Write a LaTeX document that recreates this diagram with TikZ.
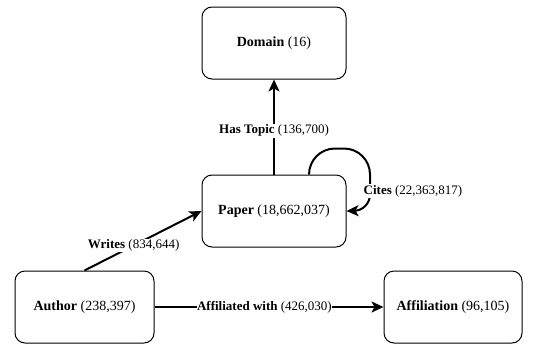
\documentclass[tikz,border=0pt]{standalone}
\usepackage{fontspec}
\setmainfont{Liberation Serif}
\usetikzlibrary{arrows.meta}
\begin{document}
\begin{tikzpicture}[x=1pt,y=-1pt,
  entity/.style={draw=black,line width=1pt,rounded corners=10pt,minimum width=144pt,minimum height=72pt,font=\fontsize{14}{16}\selectfont,inner sep=0pt},
  edge/.style={line width=2pt,-{Stealth[length=12pt,width=11pt,inset=3pt]}},
  elabel/.style={fill=white,inner sep=1pt,font=\fontsize{13}{15}\selectfont}]
\useasboundingbox (0,0) rectangle (545,343);
\node[entity] (domain) at (274,43) {\textbf{Domain} (16)};
\node[entity] (paper) at (274,211) {\textbf{Paper} (18,662,037)};
\node[entity,minimum width=139pt] (author) at (84.5,307) {\textbf{Author} (238,397)};
\node[entity,minimum width=138pt] (affil) at (453,307) {\textbf{Affiliation} (96,105)};
\draw[edge] (paper.north) -- node[elabel,pos=0.46] {\textbf{Has Topic} (136,700)} (domain.south);
\draw[edge,rounded corners=26pt] ([xshift=35pt]paper.north) -- ++(0,-26) -- ++(61,0) [rounded corners=16pt] -- ++(0,62) -- (paper.east);
\node[elabel] (citeslbl) at (413,191) {\textbf{Cites} (22,363,817)};
\draw[edge] (author.north) -- node[elabel,pos=0.42] {\textbf{Writes} (834,644)} (paper.west);
\draw[edge] (author.east) -- node[elabel,pos=0.48,inner sep=0.5pt] {\textbf{Affiliated with} (426,030)} (affil.west);
\end{tikzpicture}
\end{document}
